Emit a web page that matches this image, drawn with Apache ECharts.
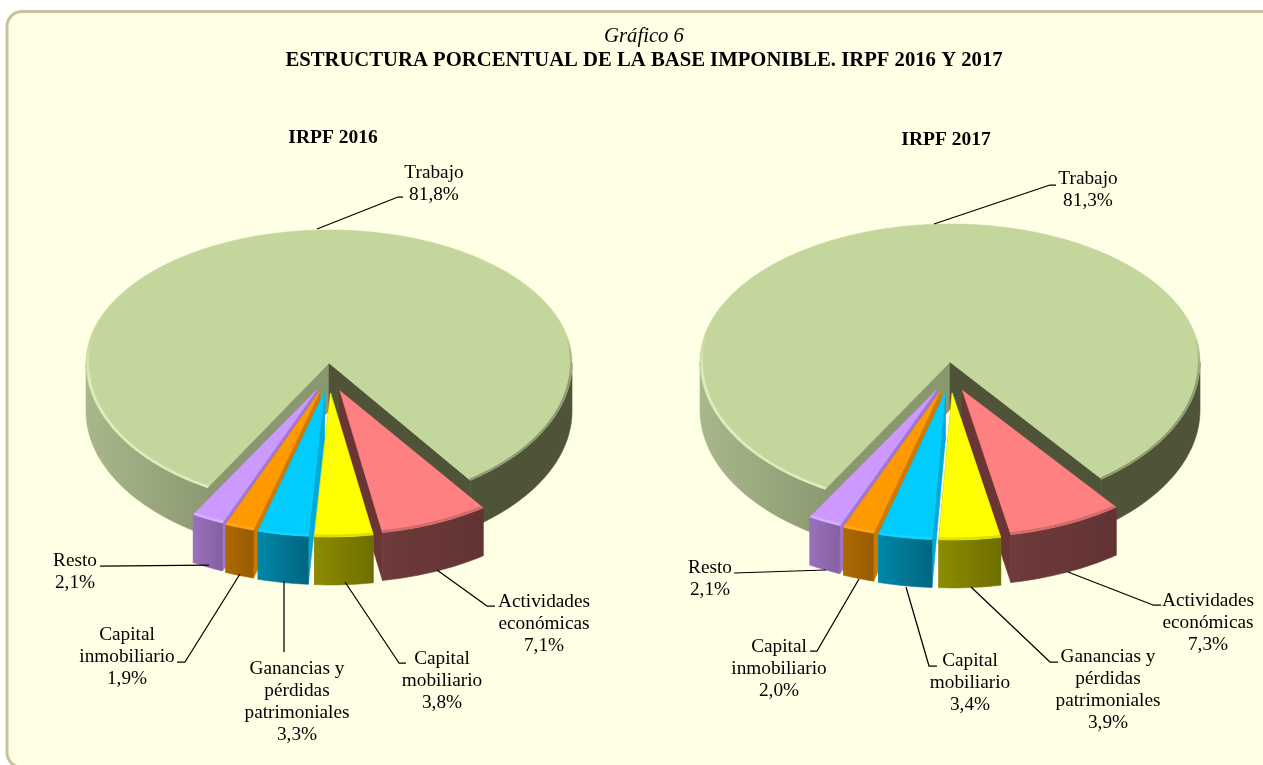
<!DOCTYPE html>
<html>
<head>
<meta charset="utf-8">
<title>Gráfico 6</title>
<style>html,body{margin:0;padding:0;background:#fff}#c{width:1263px;height:765px}</style>
<script src="https://cdn.jsdelivr.net/npm/echarts@6/dist/echarts.min.js"></script>
</head>
<body>
<div id="c"></div>
<script>
// ---- data ----
const categories2016 = ['Trabajo', 'Actividades económicas', 'Capital mobiliario', 'Ganancias y pérdidas patrimoniales', 'Capital inmobiliario', 'Resto'];
const values2016 = [81.8, 7.1, 3.8, 3.3, 1.9, 2.1];
const categories2017 = ['Trabajo', 'Actividades económicas', 'Ganancias y pérdidas patrimoniales', 'Capital mobiliario', 'Capital inmobiliario', 'Resto'];
const values2017 = [81.3, 7.3, 3.9, 3.4, 2.0, 2.1];
const mainTitle = 'ESTRUCTURA PORCENTUAL DE LA BASE IMPONIBLE. IRPF 2016 Y 2017';
const supTitle = 'Gráfico 6';
const pieTitles = ['IRPF 2016', 'IRPF 2017'];

// ---- styles and layout ----
const FONT = '"Liberation Serif","Times New Roman",serif';
const LABEL_SIZE = 19.3;
const TITLE_SIZE = 20.7;
const SUB_SIZE = 19.5;
const LINE_H = 22;
const topColors = ['#C3D69B', '#FF8080', '#FFFF00', '#00CCFF', '#FF9900', '#CC99FF'];
const wallColors = [
  ['#A9B88B', '#8C9972'], ['#6E3A3A', '#633333'], ['#8C8C00', '#6E6E00'],
  ['#0087A8', '#006680'], ['#AD6800', '#995C00'], ['#9A70BC', '#8560A0']
];
const sideColors = ['#4F5439', '#6B3535', '#8C8C00', '#00AAD4', '#CC7A00', '#A077D0'];
const rimColors = ['#DDEDBB', '#D06C6C', '#E0E000', '#12D4FF', '#FFA51E', '#D8B0FF'];
const drawRank = [0, 1, 5, 4, 3, 2];
const SLICE_SCALE = 1.015;
const geom2016 = { cx: 329, cy: 363, rx: 243, ryBack: 133, ryFront: 144, depth: 48, ex: 28, ey: 30, startDeg: 210 };
const geom2017 = { cx: 950, cy: 362, rx: 250, ryBack: 138, ryFront: 147, depth: 48, ex: 30, ey: 31, startDeg: 210 };
const layout2016 = [
  { lines: ['Trabajo'], at: [434, 172.5], leader: [[317, 229], [398, 197], [403, 197]] },
  { lines: ['Actividades', 'económicas'], at: [544, 601.5], leader: [[437, 570], [487, 606], [495, 606]] },
  { lines: ['Capital', 'mobiliario'], at: [442, 658.5], leader: [[345, 582], [399, 663], [406, 663]] },
  { lines: ['Ganancias y', 'pérdidas', 'patrimoniales'], at: [297, 668.5], leader: [[284, 581], [284, 652]] },
  { lines: ['Capital', 'inmobiliario'], at: [127, 634.5], leader: [[240, 574], [185, 662], [177, 662]] },
  { lines: ['Resto'], at: [75, 560.5], leader: [[209, 565], [100, 566]] }
];
const layout2017 = [
  { lines: ['Trabajo'], at: [1088, 178.5], leader: [[934, 224], [1050, 185], [1056, 185]] },
  { lines: ['Actividades', 'económicas'], at: [1208, 600.5], leader: [[1068, 572], [1153, 605], [1161, 605]] },
  { lines: ['Ganancias y', 'pérdidas', 'patrimoniales'], at: [1108, 656.5], leader: [[971, 587], [1050, 662], [1058, 662]] },
  { lines: ['Capital', 'mobiliario'], at: [970, 660.5], leader: [[906, 587], [929, 666], [937, 666]] },
  { lines: ['Capital', 'inmobiliario'], at: [779, 646.5], leader: [[859, 579], [817, 651], [810, 651]] },
  { lines: ['Resto'], at: [710, 567.5], leader: [[826, 570], [734, 573]] }
];

const rad = d => d * Math.PI / 180;
function project(g, deg, r, off) {
  const s = Math.sin(rad(deg)), c = Math.cos(rad(deg));
  const ry = c >= 0 ? g.ryBack : g.ryFront;
  return [g.cx + (off ? off[0] : 0) + g.rx * r * s, g.cy + (off ? off[1] : 0) - ry * r * c];
}
function arc(g, a, b, r, off) {
  const pts = [], n = Math.max(2, Math.ceil(Math.abs(b - a) / 1.5));
  for (let i = 0; i <= n; i++) pts.push(project(g, a + (b - a) * i / n, r, off));
  return pts;
}
const down = (pts, d) => pts.map(p => [p[0], p[1] + d]);
function grad(cols) {
  return new echarts.graphic.LinearGradient(0, 0, 1, 0, [{ offset: 0, color: cols[0] }, { offset: 1, color: cols[1] }]);
}
function fadeIn(from, to) {
  return new echarts.graphic.LinearGradient(0, 0, 0, 1, [{ offset: 0, color: from }, { offset: 0.3, color: to }, { offset: 1, color: to }]);
}
function poly(points, fill, z2) {
  return { type: 'polygon', shape: { points }, style: { fill, stroke: fill, lineWidth: 0.6 }, z2, silent: true };
}
function line(points, stroke, width, z2) {
  return { type: 'polyline', shape: { points }, style: { stroke, lineWidth: width, fill: null, lineJoin: 'round' }, z2, silent: true };
}

function makeSeries(name, cats, vals, g, layout) {
  const total = vals.reduce((a, b) => a + b, 0);
  const gs = Object.assign({}, g, { rx: g.rx * SLICE_SCALE });
  return {
    type: 'custom', name, coordinateSystem: 'none', silent: true, animation: false,
    data: vals.map((v, i) => ({ name: cats[i], value: v })),
    renderItem(params, api) {
      const i = params.dataIndex;
      let before = 0;
      for (let k = 0; k < i; k++) before += vals[k];
      const span = api.value(0) / total * 360;
      const a = g.startDeg + before / total * 360, b = a + span;
      const kids = [];
      const z = drawRank[i] * 10 + 10;
      if (i === 0) {
        // large wedge with a notch: outer wall, cut faces, top
        const left = project(g, a, 1), right = project(g, b, 1), apex = project(g, 0, 0);
        const rightWallVisible = arc(g, 450, b, 1);
        const leftWallVisible = arc(g, 270, a, 1);
        kids.push(poly(leftWallVisible.concat(down(leftWallVisible, g.depth).reverse()), grad(wallColors[0]), 1));
        kids.push(poly(rightWallVisible.concat(down(rightWallVisible, g.depth).reverse()), sideColors[0], 1));
        kids.push(poly([apex, left, down([left], g.depth)[0], down([apex], g.depth)[0]], '#8A9870', 2));
        kids.push(poly([apex, right, down([right], g.depth)[0], down([apex], g.depth)[0]], sideColors[0], 2));
        kids.push(poly([apex].concat(arc(g, a, b, 1)), topColors[0], 3));
        kids.push(line(arc(g, 282, a, 0.993), fadeIn(topColors[0], rimColors[0]), 2.5, 4));
        kids.push(line(arc(g, 440, b, 0.996), fadeIn(topColors[0], '#8E9B72'), 2.2, 4));
      } else {
        const mid = (a + b) / 2;
        const off = [g.ex * Math.sin(rad(mid)), -g.ey * Math.cos(rad(mid))];
        const apex = project(gs, 0, 0, off);
        const ca = project(gs, a, 1, off), cb = project(gs, b, 1, off);
        const outer = arc(gs, a, b, 1, off);
        const dn = p => [p[0], p[1] + g.depth];
        if (i === 2) {
          // the thin pale gap left between the two central pieces
          const f = project(gs, b, 1, off);
          kids.push(poly([[g.cx, g.cy + g.depth], [f[0] - 6, f[1] + g.depth], [f[0] + 3, f[1] + g.depth]], '#FFFFFF', 5));
        }
        kids.push(poly([apex, ca, dn(ca), dn(apex)], sideColors[i], z));
        kids.push(poly([apex, cb, dn(cb), dn(apex)], sideColors[i], z));
        kids.push(poly(outer.concat(down(outer, g.depth).reverse()), grad(wallColors[i]), z + 1));
        kids.push(poly([apex].concat(outer), topColors[i], z + 2));
        kids.push(line(arc(gs, a, b, 0.992, off), rimColors[i], 2.5, z + 3));
      }
      const lay = layout[i];
      kids.push(line(lay.leader, '#000000', 1.25, 100));
      const pct = api.value(0).toFixed(1).replace('.', ',') + '%';
      kids.push({
        type: 'text', z2: 101, silent: true,
        style: {
          text: lay.lines.concat(pct).join('\n'),
          x: lay.at[0], y: lay.at[1] - LINE_H / 2,
          align: 'center', verticalAlign: 'top',
          font: LABEL_SIZE + 'px ' + FONT, lineHeight: LINE_H, fill: '#000000'
        }
      });
      return { type: 'group', children: kids };
    }
  };
}

const chart = echarts.init(document.getElementById('c'), null, { renderer: 'canvas' });
function head(text, x, y, size, weight, style) {
  return {
    text, left: x, top: y, textAlign: 'center', padding: 0,
    textStyle: { fontFamily: FONT, fontSize: size, fontWeight: weight, fontStyle: style, color: '#000', lineHeight: 22 }
  };
}
chart.setOption({
  animation: false,
  backgroundColor: '#FFFFFF',
  tooltip: { show: false },
  legend: { show: false },
  title: [
    head(supTitle, 644, 26, TITLE_SIZE, 'normal', 'italic'),
    head(mainTitle, 644, 50, TITLE_SIZE, 'bold', 'normal'),
    head(pieTitles[0], 333, 127, SUB_SIZE, 'bold', 'normal'),
    head(pieTitles[1], 946, 129, SUB_SIZE, 'bold', 'normal')
  ],
  graphic: [{
    type: 'rect', silent: true, z: -1,
    shape: { x: 7, y: 11.5, width: 1269, height: 756, r: 15 },
    style: { fill: '#FFFFE5', stroke: '#C8C29B', lineWidth: 3 }
  }],
  series: [
    makeSeries('IRPF 2016', categories2016, values2016, geom2016, layout2016),
    makeSeries('IRPF 2017', categories2017, values2017, geom2017, layout2017)
  ]
});
</script>
</body>
</html>
